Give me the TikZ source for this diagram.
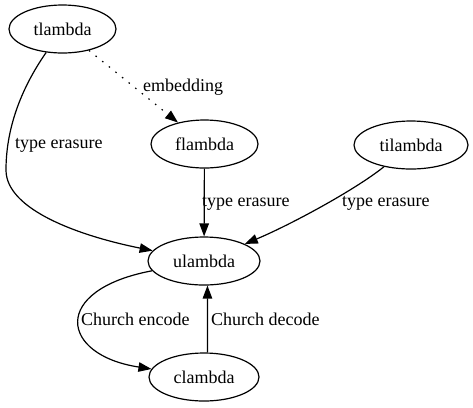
\documentclass[tikz,border=0pt]{standalone}
\usepackage{fontspec}
\setmainfont{Liberation Serif}
\usetikzlibrary{arrows.meta}
\usetikzlibrary{shapes.geometric}
\tikzset{lam/.style = {draw, ellipse, inner sep = 0, minimum height = 48bp, line width = 1.2bp}}
\tikzset{edge/.style = {line width = 1.2bp, -{Triangle[length = 13bp, width = 9.5bp]}}}
\tikzset{lbl/.style = {anchor = west, inner sep = 0}}

\begin{document}
\begin{tikzpicture}[x = 1bp, y = -1bp, font = \fontsize{18bp}{21bp}\selectfont]
      \useasboundingbox (0, 0) rectangle (473, 407);
      \node [lam, minimum width = 107bp] (tl) at (62.5, 29) {tlambda};
      \node [lam, minimum width = 107bp] (fl) at (204.5, 144) {flambda};
      \node [lam, minimum width = 114bp] (ti) at (411, 145) {tilambda};
      \node [lam, minimum width = 112bp] (ul) at (204, 261) {ulambda};
      \node [lam, minimum width = 110bp] (cl) at (204, 377) {clambda};
      \draw [edge] (tl) .. controls (20, 90) and (6, 130) .. (6, 170)
                        .. controls (6, 210) and (80, 236) .. (ul);
      \node [lbl] (te1) at (15, 145) {type erasure};
      \draw [edge, dash pattern = on 1.5bp off 7bp] (tl) -- (fl);
      \node [lbl] (emb) at (143, 87) {embedding};
      \draw [edge] (fl) -- (ul);
      \node [lbl] (te2) at (202, 203) {type erasure};
      \draw [edge] (ti) .. controls (355, 190) and (290, 225) .. (ul);
      \node [lbl] (te3) at (342, 203) {type erasure};
      \draw [edge] (ul) .. controls (50, 290) and (60, 355) .. (cl);
      \node [lbl] (enc) at (81, 319) {Church encode};
      \draw [edge] (cl.82) -- (ul.278);
      \node [lbl] (dec) at (211, 319) {Church decode};
    \end{tikzpicture}
\end{document}
